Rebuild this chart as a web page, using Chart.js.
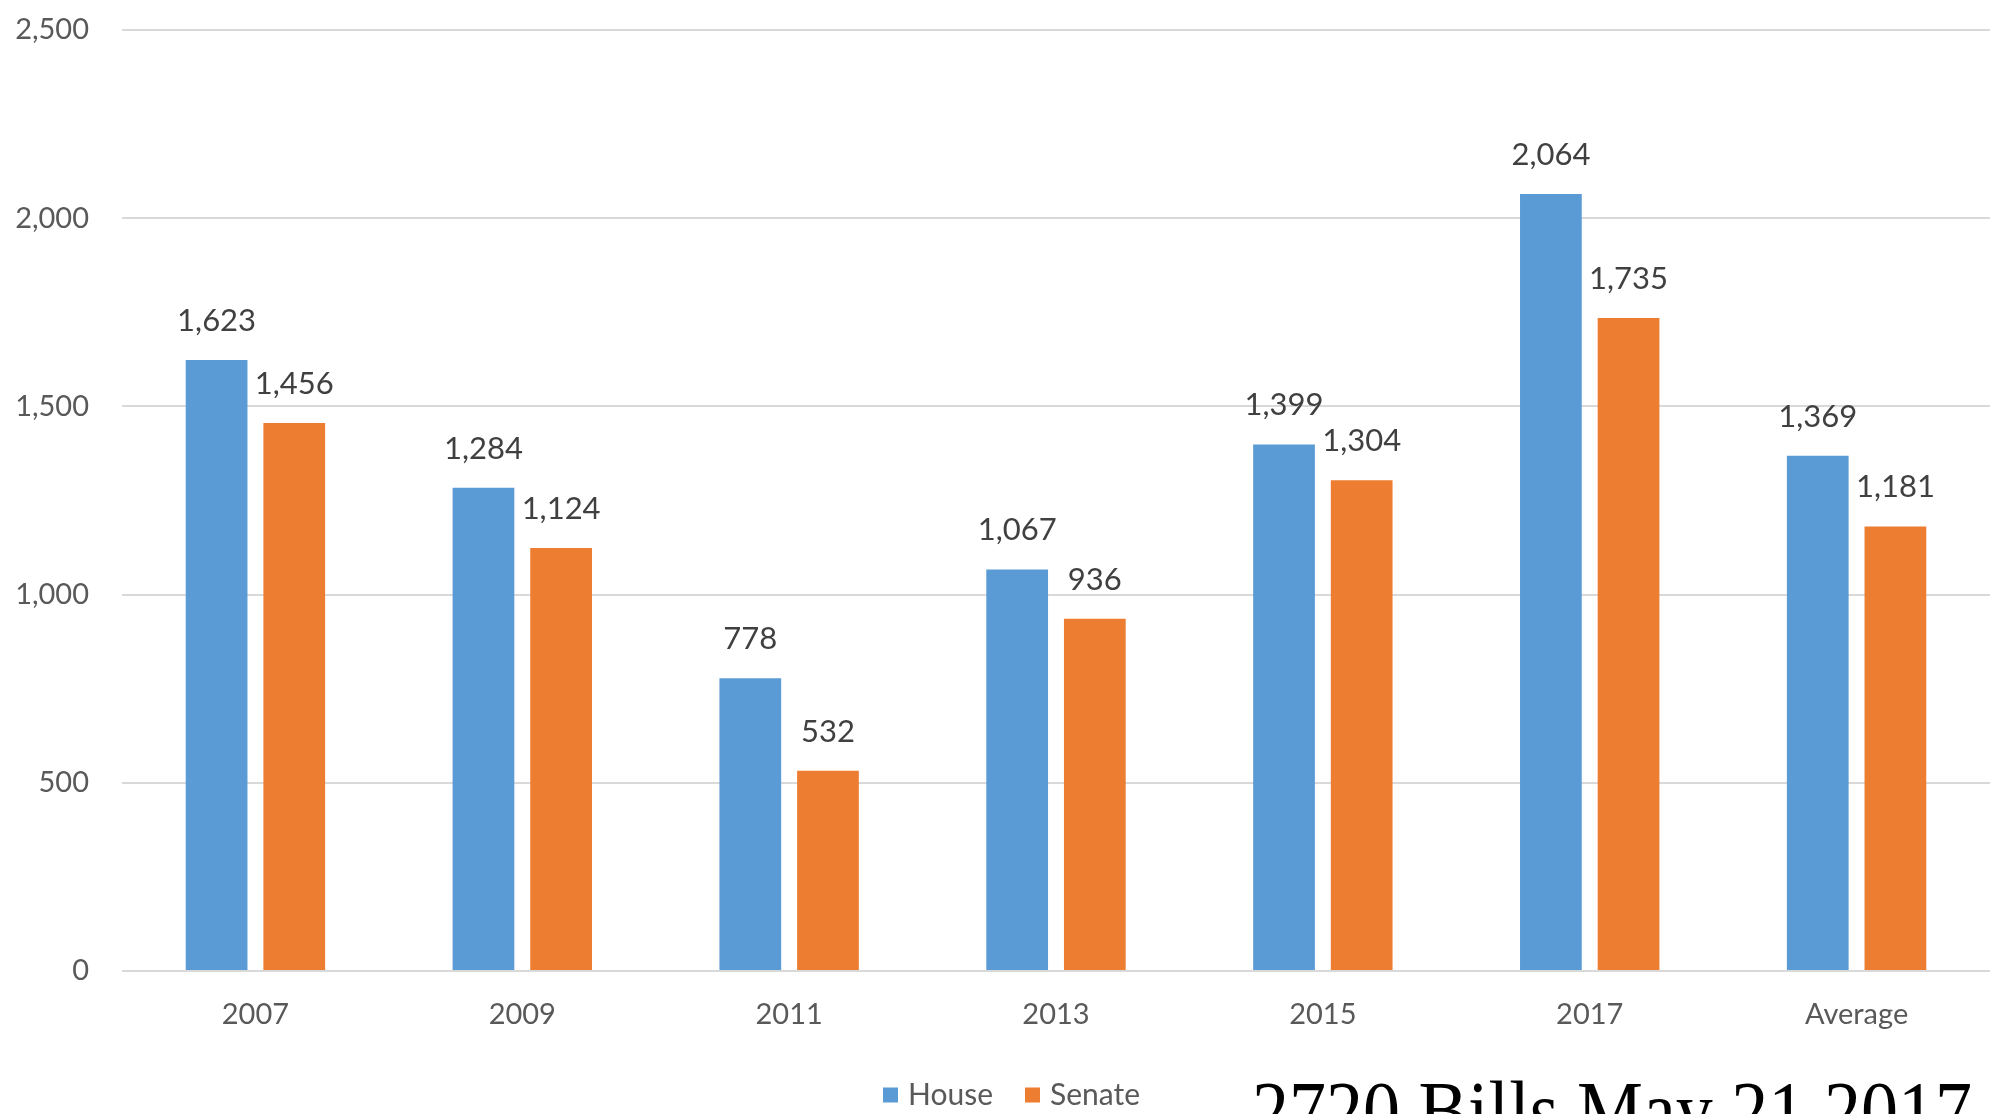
<!DOCTYPE html>
<html>
<head>
<meta charset="utf-8">
<script src="https://cdn.jsdelivr.net/npm/chart.js@4"></script>
<style>
  html, body { margin: 0; padding: 0; background: #ffffff; }
  #wrap { width: 2000px; height: 1114px; position: relative; }
</style>
</head>
<body>
<div id="wrap"><canvas id="chart" width="2000" height="1114"></canvas></div>
<script>
// Bills filed per session, House vs Senate
const categories = ['2007', '2009', '2011', '2013', '2015', '2017', 'Average'];
const houseBills = [1623, 1284, 778, 1067, 1399, 2064, 1369];
const senateBills = [1456, 1124, 532, 936, 1304, 1735, 1181];
const seriesNames = ['House', 'Senate'];
const yTicks = [0, 500, 1000, 1500, 2000, 2500];
const footnote = '2720 Bills May 21 2017';

const BLUE = '#5B9BD5';
const ORANGE = '#ED7D31';
const TEXT = '#595959';
const fmt = v => v.toLocaleString('en-US');

// Value labels above each bar
const valueLabels = {
  id: 'valueLabels',
  afterDatasetsDraw(chart) {
    const ctx = chart.ctx;
    ctx.save();
    ctx.font = '31px Lato';
    ctx.fillStyle = '#404040';
    ctx.textAlign = 'center';
    ctx.textBaseline = 'alphabetic';
    chart.data.datasets.forEach((ds, i) => {
      chart.getDatasetMeta(i).data.forEach((bar, j) => {
        ctx.fillText(fmt(ds.data[j]), bar.x, bar.y - 29);
      });
    });
    ctx.restore();
  }
};

// Legend row and footnote below the axis
const bottomLegend = {
  id: 'bottomLegend',
  afterDraw(chart) {
    const ctx = chart.ctx;
    ctx.save();
    ctx.font = '30px Lato';
    ctx.textBaseline = 'middle';
    ctx.textAlign = 'left';
    const cy = 1095;
    const box = 15, gapBox = 10, gapItem = 32;
    const items = chart.data.datasets.map(ds => ({ label: ds.label, color: ds.backgroundColor }));
    let x = 883;
    items.forEach(it => {
      ctx.fillStyle = it.color;
      ctx.fillRect(x, cy - box / 2, box, box);
      x += box + gapBox;
      ctx.fillStyle = TEXT;
      ctx.fillText(it.label, x, cy);
      x += ctx.measureText(it.label).width + gapItem;
    });
    // footnote, set in a tall narrow serif
    ctx.font = '83px "Liberation Serif"';
    ctx.fillStyle = '#000000';
    ctx.textBaseline = 'alphabetic';
    const w = ctx.measureText(footnote).width;
    ctx.translate(1252, 1138);
    ctx.scale(720 / w, 1);
    ctx.fillText(footnote, 0, 0);
    ctx.restore();
  }
};

new Chart(document.getElementById('chart'), {
  type: 'bar',
  data: {
    labels: categories,
    datasets: [
      { label: seriesNames[0], data: houseBills, backgroundColor: BLUE },
      { label: seriesNames[1], data: senateBills, backgroundColor: ORANGE }
    ]
  },
  options: {
    responsive: false,
    animation: false,
    events: [],
    categoryPercentage: 0.582,
    barPercentage: 0.795,
    layout: { padding: { top: 30, right: 10, bottom: 0, left: 0 } },
    plugins: {
      legend: { display: false },
      tooltip: { enabled: false }
    },
    scales: {
      x: {
        grid: { display: false, drawTicks: false },
        border: { display: false },
        ticks: { color: TEXT, font: { family: 'Lato', size: 29 }, padding: 26 },
        afterFit(scale) { scale.height = 143; }
      },
      y: {
        min: 0,
        max: 2500,
        afterBuildTicks(scale) { scale.ticks = yTicks.map(v => ({ value: v })); },
        grid: { color: '#D9D9D9', lineWidth: 2, drawTicks: false },
        border: { display: false },
        ticks: { color: TEXT, font: { family: 'Lato', size: 29 }, padding: 33, callback: v => fmt(v) },
        afterFit(scale) {
          scale.width = 122;
          // tick padding is horizontal here; keep it out of the vertical margins
          scale.paddingTop = 18;
          scale.paddingBottom = 18;
        }
      }
    }
  },
  plugins: [valueLabels, bottomLegend]
});
</script>
</body>
</html>
